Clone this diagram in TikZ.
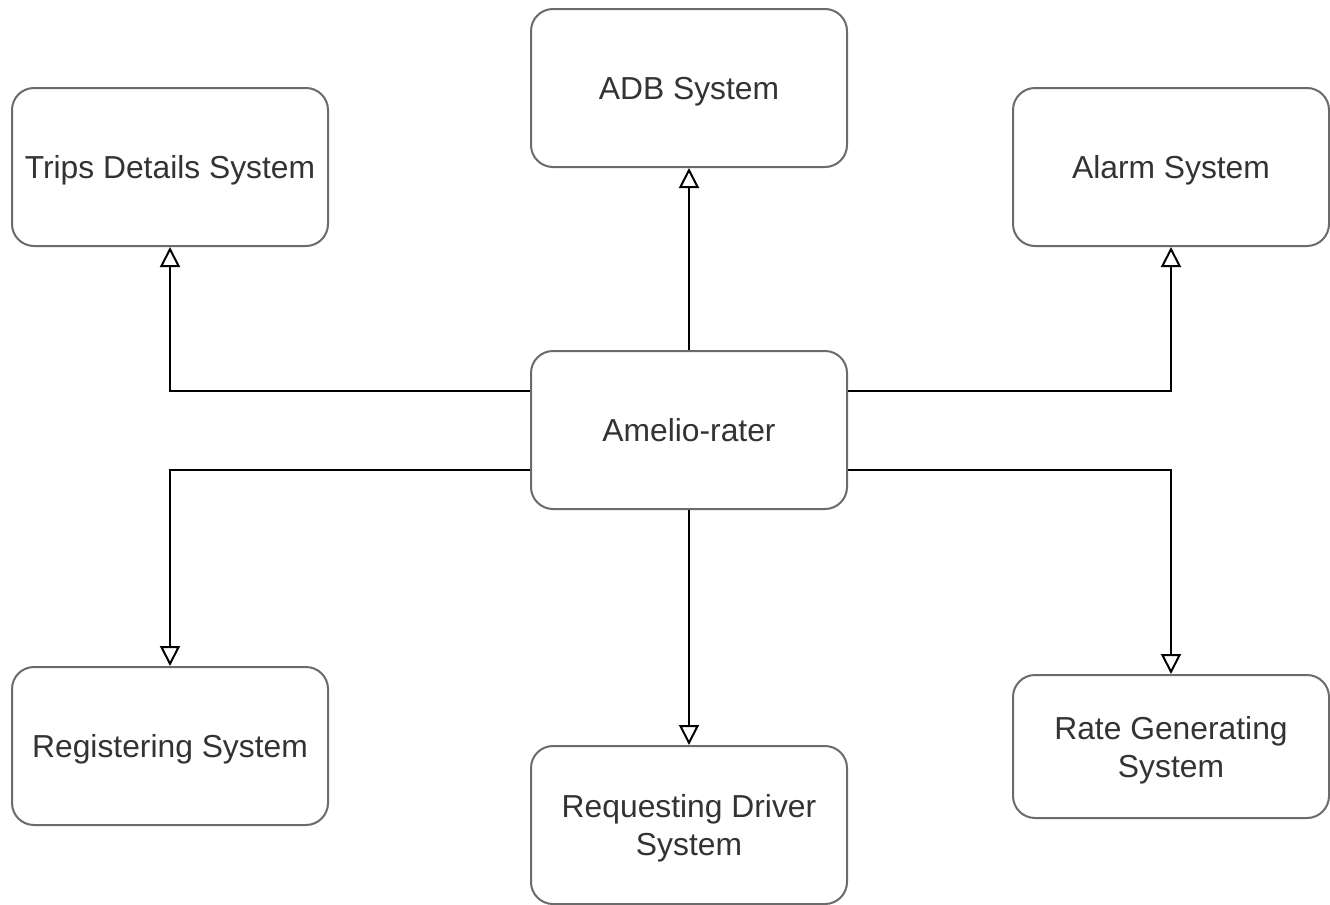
\documentclass[tikz,border=0pt]{standalone}
\usepackage{fontspec}
\setmainfont{Liberation Sans}
\usetikzlibrary{arrows.meta,calc}
\definecolor{boxline}{HTML}{6B6B6B}
\definecolor{txt}{HTML}{333333}
\tikzset{
  sysbox/.style={draw=boxline, line width=1pt, rounded corners=11pt, fill=white,
    minimum width=158pt, minimum height=79pt, inner sep=2pt, align=center,
    text=txt, font=\fontsize{15.9pt}{19pt}\selectfont,
    text height=11.6pt, text depth=0pt},
  twoline/.style={text height=30.6pt, text depth=0pt},
  link/.style={draw=black, line width=1pt,
    -{Triangle[open, length=10pt, width=10pt, fill=white]}}
}
\begin{document}
\begin{tikzpicture}[x=0.5pt, y=-0.5pt]
  \useasboundingbox (0,0) rectangle (1330,905);
  % central system
  \node[sysbox] (amelio) at (689,430) {Amelio-rater};
  % surrounding subsystems
  \node[sysbox] (adb)   at (689,88)   {ADB System};
  \node[sysbox] (trips) at (170,167)  {Trips Details System};
  \node[sysbox] (alarm) at (1171,167) {Alarm System};
  \node[sysbox] (reg)   at (170,746)  {Registering System};
  \node[sysbox, twoline] (req) at (689,825) {Requesting Driver\\System};
  \node[sysbox, twoline, minimum height=71.5pt] (rate) at (1171,746.5) {Rate Generating\\System};
  % connectors
  \draw[link] (amelio.north) -- (adb.south);
  \draw[link] ([yshift=19.75pt]amelio.west) -| (trips.south);
  \draw[link] ([yshift=19.75pt]amelio.east) -| (alarm.south);
  \draw[link] ([yshift=-19.75pt]amelio.west) -| (reg.north);
  \draw[link] (amelio.south) -- (req.north);
  \draw[link] ([yshift=-19.75pt]amelio.east) -| (rate.north);
\end{tikzpicture}
\end{document}
